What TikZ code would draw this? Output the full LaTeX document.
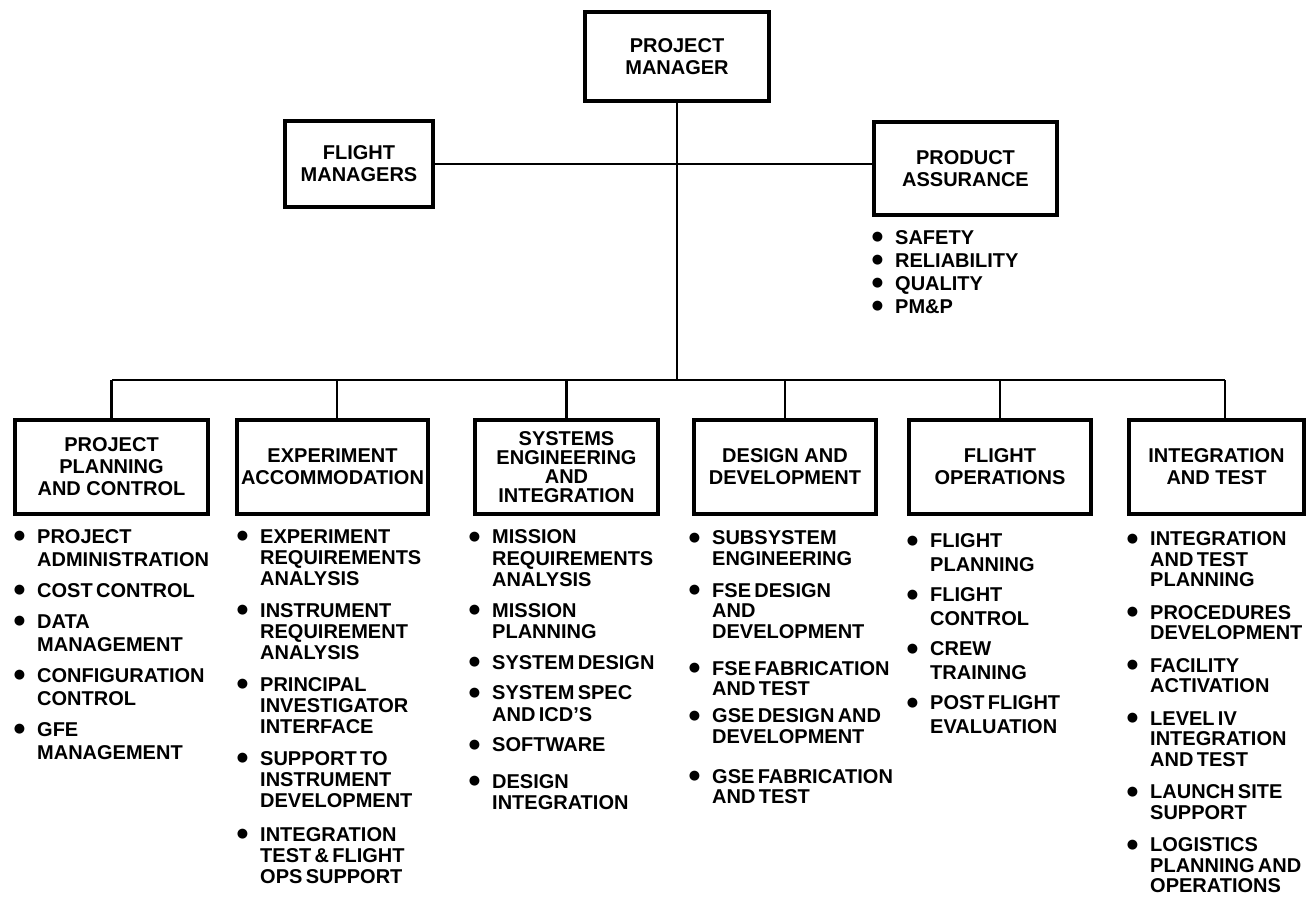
\documentclass[tikz,border=0pt]{standalone}
\usepackage{fontspec}
\setmainfont{Liberation Sans}
\newfontfamily\markfont{DejaVu Sans}

% round bullet, centred on the capital height
\newcommand{\dutymark}{\raisebox{3.5pt}{\markfont\fontsize{13}{13}\selectfont ●}}

% bulleted duty list: #1 = baseline skip, #2 = extra space between items
\newenvironment{duties}[2]{%
  \fontsize{20}{#1}\selectfont\bfseries
  \begin{list}{\dutymark}{%
    \setlength{\leftmargin}{24pt}\setlength{\labelwidth}{12pt}%
    \setlength{\labelsep}{12pt}\setlength{\itemsep}{#2}%
    \setlength{\parsep}{0pt}\setlength{\topsep}{0pt}\setlength{\partopsep}{0pt}%
    \setlength{\itemindent}{0pt}\setlength{\listparindent}{0pt}}%
  \raggedright}
 {\end{list}}

\begin{document}
\begin{tikzpicture}[x=1pt,y=-1pt,
  unit/.style={draw, line width=4pt, align=center, inner sep=0pt,
    font=\fontsize{20}{22}\selectfont\bfseries},
  dept/.style={unit, minimum height=94pt},
  link/.style={line width=2.2pt},
  duty/.style={anchor=north west, inner sep=0pt, text width=250pt}]
\useasboundingbox (0,0) rectangle (1310,912);
\fill[white] (0,0) rectangle (1310,912);

% top level
\node[unit, minimum width=184pt, minimum height=89pt] (pm) at (677,56.5) {PROJECT\\MANAGER};
\node[unit, minimum width=148pt, minimum height=86pt] (fm) at (359,164) {FLIGHT\\MANAGERS};
\node[unit, minimum width=183pt, minimum height=93pt] (pa) at (965.5,168.5) {PRODUCT\\ASSURANCE};

% departments
\node[dept, minimum width=193pt] (b1) at (111.5,467) {PROJECT\\PLANNING\\AND CONTROL};
\node[dept, minimum width=191pt] (b2) at (332.5,467) {EXPERIMENT\\ACCOMMODATION};
\node[dept, minimum width=183pt, font=\fontsize{20}{19}\selectfont\bfseries] (b3) at (566.5,467) {SYSTEMS\\ENGINEERING\\AND\\INTEGRATION};
\node[dept, minimum width=182pt] (b4) at (785,467) {DESIGN AND\\DEVELOPMENT};
\node[dept, minimum width=182pt] (b5) at (1000,467) {FLIGHT\\OPERATIONS};
\node[dept, minimum width=175pt] (b6) at (1216.5,467) {INTEGRATION\\AND TEST};

% connectors
\coordinate (busL) at (112,380);
\coordinate (busR) at (1225,380);
\draw[link] (fm.east) -- (fm.east -| pa.west);
\draw[link] (pm.south) -- (pm.south |- busL);
\draw[link] (busL) -- (busR);
\draw[link] (b1.north) -- (b1.north |- busL);
\draw[link] ([xshift=4.5pt]b2.north) -- ([xshift=4.5pt]b2.north |- busL);
\draw[link] (b3.north) -- (b3.north |- busL);
\draw[link] (b4.north) -- (b4.north |- busL);
\draw[link] (b5.north) -- (b5.north |- busL);
\draw[link] (busR) -- (busR |- b6.north);

% product assurance items
\node[duty] (lpa) at (871,221) {\begin{duties}{23pt}{0pt}
\item SAFETY
\item RELIABILITY
\item QUALITY
\item PM\&P
\end{duties}};

% department duties
\node[duty] (l1) at (13,520) {\begin{duties}{23pt}{8pt}
\item PROJECT\\ADMINISTRATION
\item COST CONTROL
\item DATA\\MANAGEMENT
\item CONFIGURATION\\CONTROL
\item GFE\\MANAGEMENT
\end{duties}};

\node[duty] (l2) at (236,522) {\begin{duties}{21pt}{11pt}
\item EXPERIMENT\\REQUIREMENTS\\ANALYSIS
\item INSTRUMENT\\REQUIREMENT\\ANALYSIS
\item PRINCIPAL\\INVESTIGATOR\\INTERFACE
\item SUPPORT TO\\INSTRUMENT\\DEVELOPMENT
\vspace{2pt}
\item INTEGRATION\\TEST \& FLIGHT\\OPS SUPPORT
\end{duties}};

\node[duty] (l3) at (468,522) {\begin{duties}{21.5pt}{9pt}
\item MISSION\\REQUIREMENTS\\ANALYSIS
\item MISSION\\PLANNING
\item SYSTEM DESIGN
\item SYSTEM SPEC\\AND ICD'S
\item SOFTWARE
\vspace{6pt}
\item DESIGN\\INTEGRATION
\end{duties}};

\node[duty] (l4) at (688,524) {\begin{duties}{20.5pt}{11.5pt}
\item SUBSYSTEM\\ENGINEERING
\item FSE DESIGN\\AND\\DEVELOPMENT
\vspace{5pt}
\item FSE FABRICATION\\AND TEST
\vspace{-5pt}
\item GSE DESIGN AND\\DEVELOPMENT
\vspace{8pt}
\item GSE FABRICATION\\AND TEST
\end{duties}};

\node[duty] (l5) at (906,524) {\begin{duties}{23.5pt}{7pt}
\item FLIGHT\\PLANNING
\item FLIGHT\\CONTROL
\item CREW\\TRAINING
\item POST FLIGHT\\EVALUATION
\end{duties}};

\node[duty] (l6) at (1126,525) {\begin{duties}{20.5pt}{12pt}
\item INTEGRATION\\AND TEST\\PLANNING
\item PROCEDURES\\DEVELOPMENT
\item FACILITY\\ACTIVATION
\item LEVEL IV\\INTEGRATION\\AND TEST
\item LAUNCH SITE\\SUPPORT
\item LOGISTICS\\PLANNING AND\\OPERATIONS
\end{duties}};
\end{tikzpicture}
\end{document}
